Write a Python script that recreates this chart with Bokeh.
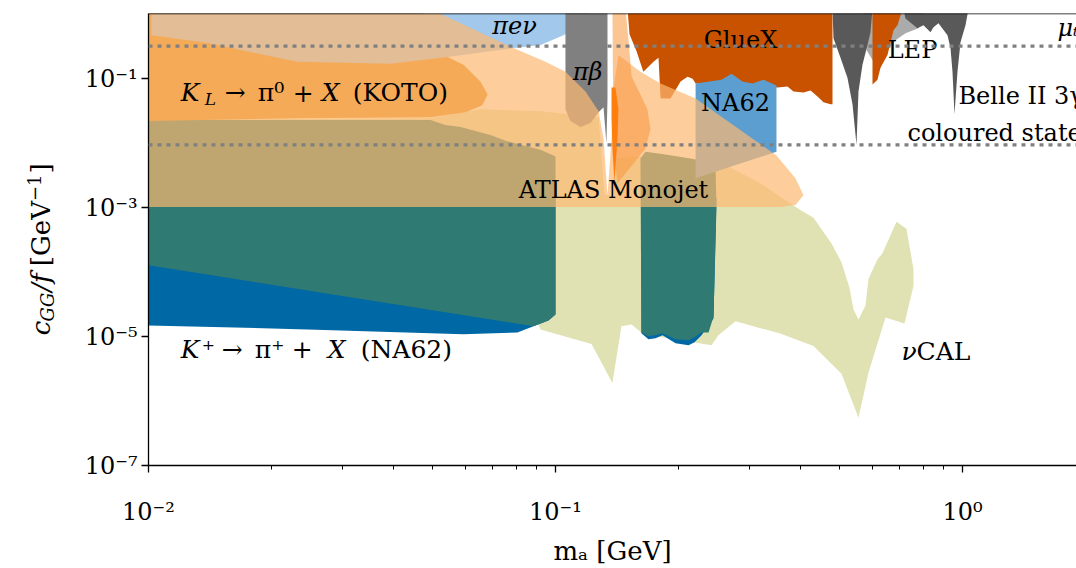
from bokeh.plotting import figure
from bokeh.layouts import row
from bokeh.models import Range1d, FixedTicker, CustomJSTickFormatter, Span
from bokeh.embed import file_html
from bokeh.resources import INLINE
from bokeh.core.properties import value

FONT = "DejaVu Serif"

# ---------------- data (m_a in GeV, c_GG/f in GeV^-1) ----------------
ncal_m = [0.0100, 0.0493, 0.0654, 0.0919, 0.1276, 0.1319, 0.1373, 0.1396, 0.1617, 0.2486, 0.3189, 0.3694, 0.3998,
          0.4304, 0.4766, 0.5043, 0.5276, 0.5397, 0.5552, 0.5776, 0.5875, 0.6182, 0.6359, 0.6884, 0.7284, 0.7579,
          0.7579, 0.7202, 0.6468, 0.5875, 0.5552, 0.5043, 0.4304, 0.3551, 0.2769, 0.2514, 0.2417, 0.1644, 0.1538,
          0.1452, 0.1380, 0.1226, 0.0919, 0.0868, 0.0100]
ncal_c = [2.28e-2, 2.44e-2, 3.35e-2, 3.13e-2, 2.53e-2, 1.56e-3, 1.56e-3, 5.76e-3, 6.18e-3, 5.36e-3, 2.38e-3, 1.26e-3,
          9.21e-4, 6.95e-4, 2.78e-4, 1.42e-4, 5.69e-5, 2.62e-5, 1.84e-5, 3.02e-5, 7.81e-5, 1.58e-4, 1.95e-4, 6.03e-4,
          4.71e-4, 1.11e-4, 6.10e-5, 1.60e-5, 1.98e-5, 2.74e-6, 5.5e-7, 2.65e-6, 7.11e-6, 1.12e-5, 1.72e-5, 1.05e-5,
          7.36e-6, 1.085e-5, 1.54e-5, 1.44e-5, 1.9e-6, 7.63e-6, 1.29e-5, 2.91e-5, 2.91e-5]

kp_m = [0.0100, 0.1000, 0.1000, 0.0961, 0.0883, 0.0806, 0.0594, 0.0246, 0.0100]
kp_c = [1.41e-3, 1.41e-3, 2.20e-5, 1.78e-5, 1.44e-5, 1.16e-5, 1.085e-5, 1.29e-5, 1.49e-5]
kpb_m = [0.1626, 0.2486, 0.2445, 0.2285, 0.2196, 0.2123, 0.1972, 0.1833, 0.1761, 0.1692, 0.1626]
kpb_c = [1.41e-3, 1.41e-3, 1.91e-5, 1.05e-5, 8.18e-6, 7.36e-6, 7.90e-6, 1.05e-5, 9.43e-6, 9.10e-6, 1.12e-5]

teal_m = [0.0100, 0.0493, 0.0537, 0.0584, 0.0636, 0.0692, 0.0754, 0.0820, 0.0919, 0.1000, 0.1000, 0.0961, 0.0883, 0.0100]
teal_c = [0.0228, 0.0228, 0.0191, 0.0178, 0.0154, 0.0134, 0.0109, 0.00943, 0.0079, 0.00618, 2.20e-5, 1.78e-5, 1.44e-5, 1.28e-4]
tealb_m = [0.1617, 0.1663, 0.1812, 0.2147, 0.2472, 0.2486, 0.2445, 0.2377, 0.2285, 0.2196, 0.2123, 0.1972, 0.1833,
           0.1761, 0.1692, 0.1626]
tealb_c = [0.00576, 0.00737, 0.00687, 0.00576, 0.00483, 0.000988, 2.05e-5, 1.16e-5, 1.16e-5, 9.76e-6, 8.78e-6, 9.10e-6,
           1.12e-5, 1.05e-5, 1.01e-5, 1.16e-5]

koto_m = [0.0100, 0.0466, 0.0543, 0.0594, 0.0654, 0.0681, 0.0661, 0.0601, 0.0493, 0.0236, 0.0100]
koto_c = [1.2, 1.2, 0.217, 0.164, 0.090, 0.0569, 0.0386, 0.0302, 0.0253, 0.0244, 0.0220]

pen_m = [0.01017, 0.1240, 0.1152, 0.1046, 0.0919, 0.0788, 0.0543, 0.0393, 0.0232, 0.0140, 0.01017]
pen_c = [1.2, 1.2, 0.671, 0.472, 0.331, 0.298, 0.217, 0.170, 0.182, 0.356, 0.472]

pib_m = [0.1058, 0.1342, 0.1342, 0.1334, 0.1312, 0.1276, 0.1219, 0.1152, 0.1088, 0.1058]
pib_c = [1.2, 1.2, 0.0477, 0.00977, 0.0360, 0.0302, 0.0205, 0.0178, 0.0220, 0.0335]

gluex_m = [0.1503, 0.1520, 0.1581, 0.1644, 0.1741, 0.1791, 0.1812, 0.1917, 0.2029, 0.2111, 0.2172, 0.2209, 0.2542,
           0.3511, 0.3715, 0.3843, 0.4067, 0.4232, 0.4403, 0.4555, 0.4739, 0.4793, 0.4793]
gluex_c = [1.2, 0.489, 0.268, 0.128, 0.182, 0.210, 0.0494, 0.0494, 0.0900, 0.1073, 0.100, 0.0839, 0.0839, 0.0728,
           0.0754, 0.0632, 0.0610, 0.0655, 0.0530, 0.0429, 0.0400, 0.0400, 1.2]
gluex2_m = [0.6010, 0.7121, 0.6923, 0.6768, 0.6542, 0.6288, 0.6182, 0.6010]
gluex2_c = [1.2, 1.2, 0.671, 0.563, 0.233, 0.147, 0.0965, 0.0810]

na62_m = [0.2209, 0.2557, 0.2707, 0.2880, 0.3048, 0.3244, 0.3491, 0.3491, 0.2209]
na62_c = [0.0839, 0.0965, 0.1192, 0.0900, 0.0839, 0.0965, 0.0781, 0.00737, 0.00284]

lgray_m = [0.5679, 0.8111, 0.7794, 0.7243, 0.6845, 0.6288, 0.6010, 0.5809]
lgray_c = [1.2, 1.2, 0.603, 0.506, 0.395, 0.210, 0.195, 0.278]
lep1_m = [0.4793, 0.6010, 0.5942, 0.5842, 0.5679, 0.5552, 0.5490, 0.5367, 0.5216, 0.5015, 0.4820]
lep1_c = [1.2, 1.2, 0.524, 0.331, 0.164, 0.0632, 0.0094, 0.0400, 0.1036, 0.210, 0.424]
lep2_m = [0.7162, 1.0345, 1.0171, 0.9888, 0.9721, 0.9557, 0.9450, 0.9344, 0.9186, 0.8730, 0.8487, 0.8344, 0.8020,
          0.7750, 0.7243]
lep2_c = [1.2, 1.2, 0.671, 0.368, 0.128, 0.0281, 0.128, 0.298, 0.472, 0.720, 0.625, 0.524, 0.671, 0.603, 0.858]

atlas_m = [0.0100, 0.0493, 0.0788, 0.0945, 0.1058, 0.1185, 0.1276, 0.1312, 0.1342, 0.1373, 0.1388, 0.1428, 0.1617,
           0.1812, 0.2209, 0.3491, 0.3887, 0.4067, 0.3887, 0.3571, 0.0100]
atlas_c = [1.2, 1.2, 0.298, 0.182, 0.128, 0.0632, 0.0313, 0.01165, 0.00156, 0.01165, 0.0679, 0.233, 0.128, 0.0839,
           0.0494, 0.0064, 0.00284, 0.00156, 0.0011, 0.00102, 0.00102]

spike_m = [0.1380, 0.1486, 0.1512, 0.1538, 0.1617, 0.1682, 0.1712, 0.1663, 0.1590, 0.1486, 0.1420, 0.1388]
spike_c = [1.2, 1.2, 0.395, 0.107, 0.0569, 0.0335, 0.0166, 0.0082, 0.00576, 0.00339, 0.00238, 0.0082]
strip_m = [0.1373, 0.1404, 0.1428, 0.1420, 0.1396, 0.1380, 0.1373]
strip_c = [0.0728, 0.0728, 0.0335, 0.01165, 0.00256, 0.0082, 0.0236]

coloured_states = [0.32, 0.0094]

x_ticks = [0.01, 0.1, 1.0]
y_ticks = [1e-7, 1e-5, 1e-3, 1e-1]

Y0, Y1 = 1e-7, 1.024

# ---------------- main figure ----------------
p = figure(width=1016, height=568, x_axis_type="log", y_axis_type="log",
           x_range=Range1d(0.01, 1.906), y_range=Range1d(Y0, Y1),
           output_backend="svg", toolbar_location=None,
           min_border_left=88, min_border_right=0, min_border_top=13, min_border_bottom=97)
p.outline_line_color = None
p.xgrid.visible = False
p.ygrid.visible = False
p.background_fill_color = "white"


def region(m, c, color, alpha=1.0):
    p.patch(m, c, fill_color=color, fill_alpha=alpha, line_color=None)


region(ncal_m, ncal_c, "#e0e2b4")
region(kp_m, kp_c, "#0068a5")
region(kpb_m, kpb_c, "#0068a5")
region(teal_m, teal_c, "#2f7a72")
region(tealb_m, tealb_c, "#2f7a72")
region(koto_m, koto_c, "#e4881c")
region(pen_m, pen_c, "#a2c8eb")
region(pib_m, pib_c, "#808080")
region(lgray_m, lgray_c, "#ababab")
region(gluex_m, gluex_c, "#c85200")
region(gluex2_m, gluex2_c, "#c85200")
region(na62_m, na62_c, "#5c9ed0")
region(lep1_m, lep1_c, "#595959")
region(lep2_m, lep2_c, "#595959")
region(atlas_m, atlas_c, "#fcb871", 0.707)
region(spike_m, spike_c, "#fa963c", 0.55)
region(strip_m, strip_c, "#ff7f0e")

for lvl in coloured_states:
    p.add_layout(Span(location=lvl, dimension="width", line_color="#808080", line_width=3.3, line_dash="4 5"))
p.add_layout(Span(location=Y1, dimension="width", line_color="black", line_width=1.3))

# ---------------- axes ----------------
fmt = CustomJSTickFormatter(code=r"""
const s = {"-": "\u207b", "0": "\u2070", "1": "\u00b9", "2": "\u00b2", "3": "\u00b3", "4": "\u2074",
           "5": "\u2075", "6": "\u2076", "7": "\u2077", "8": "\u2078", "9": "\u2079"};
const e = Math.round(Math.log10(tick));
return "10" + String(e).split("").map(c => s[c]).join("");
""")
minor = [k * 10.0 ** e for e in (-2, -1, 0) for k in range(2, 10)]
p.xaxis[0].ticker = FixedTicker(ticks=x_ticks, minor_ticks=minor)
p.yaxis[0].ticker = FixedTicker(ticks=y_ticks, minor_ticks=[])
for ax in (p.xaxis[0], p.yaxis[0]):
    ax.formatter = fmt
    ax.major_label_text_font = FONT
    ax.major_label_text_font_size = "24px"
    ax.major_label_text_color = "black"
    ax.axis_line_color = "black"
    ax.axis_line_width = 1.3
    ax.major_tick_line_color = "black"
    ax.major_tick_line_width = 1.3
    ax.major_tick_in = 0
    ax.major_tick_out = 7
    ax.minor_tick_line_color = "black"
    ax.minor_tick_line_width = 1
    ax.minor_tick_in = 0
    ax.minor_tick_out = 4
p.xaxis[0].major_label_standoff = 25
p.yaxis[0].major_label_standoff = 4
p.xaxis[0].axis_label = "mₐ [GeV]"
p.xaxis[0].axis_label_text_font = FONT
p.xaxis[0].axis_label_text_font_size = "26px"
p.xaxis[0].axis_label_text_font_style = "normal"
p.xaxis[0].axis_label_text_color = "black"
p.xaxis[0].axis_label_standoff = 7


# ---------------- texts ----------------
def txt(fig, x, y, s, size="24px", style="normal", align="left", dx=0, dy=0, angle=0.0):
    fig.text(x=[x], y=[y], text=[s], text_font=value(FONT), text_font_size=value(size),
             text_font_style=value(style), text_align=value(align), text_baseline=value("middle"),
             x_offset=dx, y_offset=dy, angle=angle, text_color="black")


txt(p, 0.0793, 0.648, "πeν", style="italic", align="center")
txt(p, 0.1199, 0.128, "πβ", style="italic", align="center")
txt(p, 0.2847, 0.395, "GlueX", align="center")
txt(p, 0.2769, 0.0414, "NA62", align="center")
txt(p, 0.7536, 0.278, "LEP", align="center")
txt(p, 1.712, 0.603, "μₜ", style="italic")
txt(p, 0.9776, 0.0530, "Belle II 3γ")
txt(p, 0.7325, 0.0144, "coloured states")
txt(p, 0.1388, 0.00186, "ATLAS Monojet", align="center")

# K_L -> pi0 + X (KOTO)
KX, KY = 0.0120, 0.0600
txt(p, KX, KY, "K", size="25px", style="italic")
txt(p, KX, KY, "L", size="17px", style="italic", dx=24, dy=6)
txt(p, KX, KY, "→", size="25px", dx=44)
txt(p, KX, KY, "π⁰", size="25px", dx=77)
txt(p, KX, KY, "+", size="25px", dx=112)
txt(p, KX, KY, "X", size="25px", style="italic", dx=141)
txt(p, KX, KY, "(KOTO)", size="25px", dx=172)

# K+ -> pi+ + X (NA62)
NX, NY = 0.0120, 6.39e-6
txt(p, NX, NY, "K", size="25px", style="italic")
txt(p, NX, NY, "⁺", size="25px", dx=21)
txt(p, NX, NY, "→", size="25px", dx=41)
txt(p, NX, NY, "π⁺", size="25px", dx=74)
txt(p, NX, NY, "+", size="25px", dx=111)
txt(p, NX, NY, "X", size="25px", style="italic", dx=147)
txt(p, NX, NY, "(NA62)", size="25px", dx=180)

# nu CAL
txt(p, 0.7083, 5.96e-6, "ν", size="25px", style="italic")
txt(p, 0.7083, 5.96e-6, "CAL", size="25px", dx=15)

# ---------------- y-axis title strip:  c_GG/f [GeV^-1] ----------------
yl = figure(width=60, height=568, x_range=Range1d(0, 60), y_range=Range1d(Y0, Y1), y_axis_type="log",
            output_backend="svg", toolbar_location=None,
            x_axis_location=None, y_axis_location=None,
            min_border_left=0, min_border_right=0, min_border_top=13, min_border_bottom=97)
yl.outline_line_color = None
yl.xgrid.visible = False
yl.ygrid.visible = False
ROT = 1.5707963
txt(yl, 40, 1.047e-5, "c", size="26px", style="italic", angle=ROT)
txt(yl, 47, 1.715e-5, "GG", size="18px", style="italic", angle=ROT)
txt(yl, 40, 4.94e-5, "/f", size="26px", style="italic", angle=ROT)
txt(yl, 40, 1.235e-4, "[GeV", size="26px", angle=ROT)
txt(yl, 33, 1.265e-3, "−1", size="18px", angle=ROT)
txt(yl, 40, 3.392e-3, "]", size="26px", angle=ROT)

layout = row(yl, p)
open("out.html", "w", encoding="utf-8").write(file_html(layout, INLINE))
